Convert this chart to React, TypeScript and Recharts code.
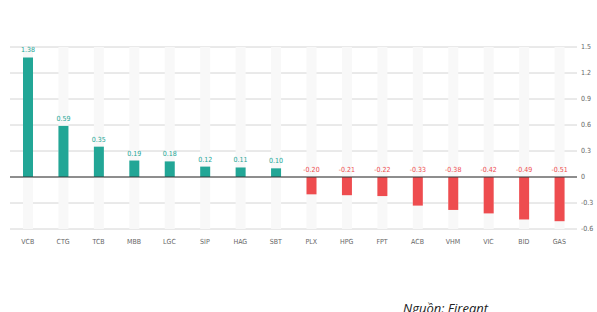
import React from "react";
import {
  BarChart,
  Bar,
  XAxis,
  YAxis,
  CartesianGrid,
  ReferenceLine,
  Cell,
  LabelList,
} from "recharts";

const tickers = [
  "VCB", "CTG", "TCB", "MBB", "LGC", "SIP", "HAG", "SBT",
  "PLX", "HPG", "FPT", "ACB", "VHM", "VIC", "BID", "GAS",
];
const impact = [
  1.38, 0.59, 0.35, 0.19, 0.18, 0.12, 0.11, 0.1,
  -0.2, -0.21, -0.22, -0.33, -0.38, -0.42, -0.49, -0.51,
];
const yTicks = [-0.6, -0.3, 0, 0.3, 0.6, 0.9, 1.2, 1.5];

const data = tickers.map((t, i) => ({ ticker: t, value: impact[i] }));

const UP = "#22a696";
const DOWN = "#ee4c4f";
const FONT = "'DejaVu Sans Condensed', 'Liberation Sans Narrow', 'DejaVu Sans', sans-serif";

const ValueLabel = (props: any) => {
  const { x, y, width, height, value } = props;
  const top = Math.min(y, y + height);
  return (
    <text
      x={x + width / 2}
      y={top - 5}
      textAnchor="middle"
      fontSize={7}
      fontFamily={FONT}
      fill={value >= 0 ? UP : DOWN}
    >
      {Number(value).toFixed(2)}
    </text>
  );
};

export default function App() {
  return (
    <div
      style={{
        position: "fixed",
        top: 0,
        left: 0,
        width: 597,
        height: 312,
        background: "#fff",
        overflow: "hidden",
      }}
    >
      <div
        style={{
          position: "absolute",
          top: -24,
          left: 118,
          whiteSpace: "nowrap",
          fontFamily: "'Open Sans', sans-serif",
          fontSize: 19,
          color: "#1f3a8a",
        }}
      >
        Top cổ phiếu tác động mạnh nhất, ngày
      </div>
      <BarChart
        width={597}
        height={260}
        data={data}
        margin={{ top: 47, right: 0, bottom: 11, left: 10 }}
      >
        <CartesianGrid vertical={false} stroke="#d4d4d4" />
        <XAxis
          dataKey="ticker"
          axisLine={false}
          tickLine={false}
          interval={0}
          height={20}
          tickMargin={4}
          tick={{ fontSize: 7, fill: "#666", fontFamily: FONT }}
        />
        <YAxis
          orientation="right"
          domain={[-0.6, 1.5]}
          ticks={yTicks}
          axisLine={false}
          tickLine={false}
          width={20}
          tickSize={2}
          tickMargin={2}
          tick={{ fontSize: 7, fill: "#666", fontFamily: FONT, textAnchor: "start" }}
        />
        <ReferenceLine y={0} stroke="#333" strokeWidth={1} />
        <Bar
          dataKey="value"
          barSize={10}
          background={{ fill: "#f8f8f8" }}
          isAnimationActive={false}
        >
          {data.map((d) => (
            <Cell key={d.ticker} fill={d.value >= 0 ? UP : DOWN} />
          ))}
          <LabelList dataKey="value" content={ValueLabel} />
        </Bar>
      </BarChart>
      <div
        style={{
          position: "absolute",
          top: 299,
          left: 403,
          fontFamily: "'Open Sans', sans-serif",
          fontStyle: "italic",
          fontSize: 13,
          color: "#222",
        }}
      >
        Nguồn: Fireant
      </div>
    </div>
  );
}
